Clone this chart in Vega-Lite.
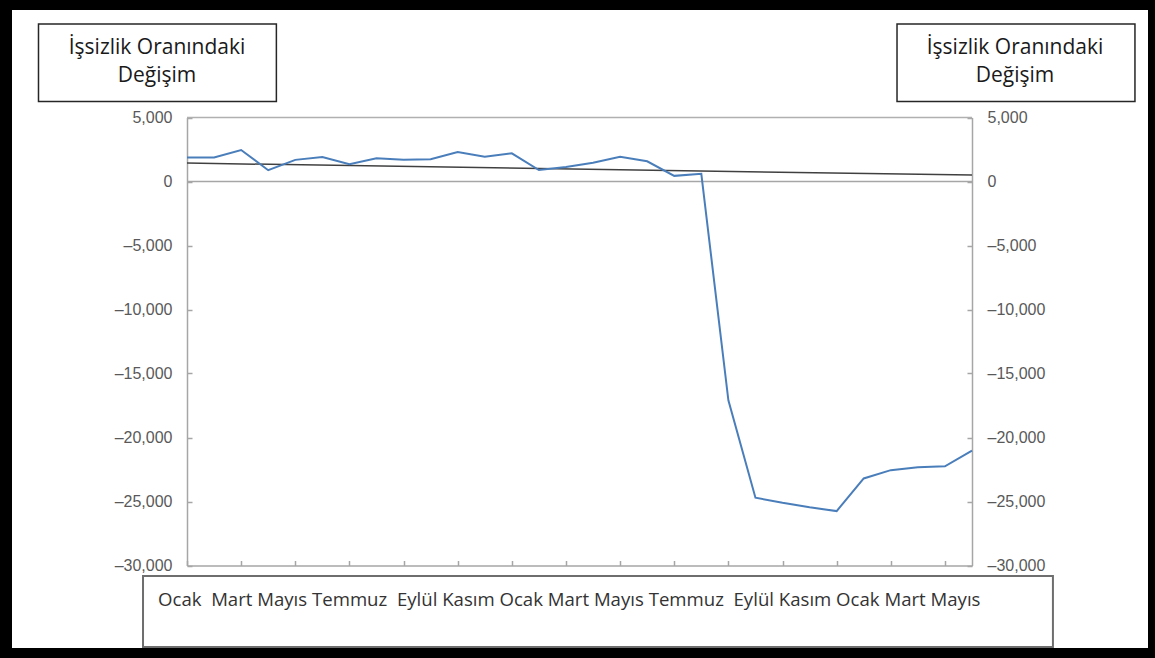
{
  "$schema": "https://vega.github.io/schema/vega-lite/v6.json",
  "autosize": "none",
  "width": 1136,
  "height": 638,
  "padding": {"left": 12, "top": 10, "right": 7, "bottom": 10},
  "background": "black",
  "config": {
    "view": {"fill": "white", "stroke": null},
    "axis": {"grid": false, "title": null}
  },
  "data": {"values": [{}]},
  "datasets": {
    "degisim": [
      {"ay": 0, "deger": 1870},
      {"ay": 1, "deger": 1870},
      {"ay": 2, "deger": 2460},
      {"ay": 3, "deger": 880},
      {"ay": 4, "deger": 1690},
      {"ay": 5, "deger": 1920},
      {"ay": 6, "deger": 1350},
      {"ay": 7, "deger": 1820},
      {"ay": 8, "deger": 1690},
      {"ay": 9, "deger": 1740},
      {"ay": 10, "deger": 2310},
      {"ay": 11, "deger": 1940},
      {"ay": 12, "deger": 2200},
      {"ay": 13, "deger": 900},
      {"ay": 14, "deger": 1140},
      {"ay": 15, "deger": 1470},
      {"ay": 16, "deger": 1940},
      {"ay": 17, "deger": 1580},
      {"ay": 18, "deger": 440},
      {"ay": 19, "deger": 600},
      {"ay": 20, "deger": -17100},
      {"ay": 21, "deger": -24700},
      {"ay": 22, "deger": -25100},
      {"ay": 23, "deger": -25450},
      {"ay": 24, "deger": -25750},
      {"ay": 25, "deger": -23200},
      {"ay": 26, "deger": -22550},
      {"ay": 27, "deger": -22330},
      {"ay": 28, "deger": -22250},
      {"ay": 29, "deger": -21030}
    ],
    "egilim": [
      {"ay": 0, "deger": 1440},
      {"ay": 29, "deger": 500}
    ]
  },
  "resolve": {"axis": {"x": "independent", "y": "independent"}},
  "layer": [
    {
      "mark": {"type": "rect", "fill": "white", "stroke": "#6e6e6e", "strokeWidth": 2, "clip": false},
      "encoding": {
        "x": {"datum": -1.625, "type": "quantitative", "axis": null},
        "x2": {"datum": 31.99},
        "y": {"datum": -30820, "type": "quantitative", "axis": null},
        "y2": {"datum": -36367}
      }
    },
    {
      "mark": {"type": "text", "align": "left", "baseline": "middle", "font": "Open Sans", "fontSize": 18.6, "color": "#333333", "clip": false},
      "encoding": {
        "x": {"datum": -1.071, "type": "quantitative", "axis": null},
        "y": {"datum": -32734, "type": "quantitative", "axis": null},
        "text": {"value": "Ocak \u00a0Mart Mayıs Temmuz \u00a0Eylül Kasım Ocak Mart Mayıs Temmuz \u00a0Eylül Kasım Ocak Mart Mayıs"}
      }
    },
    {
      "mark": {"type": "rect", "fill": "white", "stroke": "#262626", "strokeWidth": 1.5, "clip": false},
      "encoding": {
        "x": {"datum": -5.486, "type": "quantitative", "axis": null},
        "x2": {"datum": 3.302},
        "y": {"datum": 12305, "type": "quantitative", "axis": null},
        "y2": {"datum": 6250}
      }
    },
    {
      "mark": {"type": "rect", "fill": "white", "stroke": "#262626", "strokeWidth": 1.5, "clip": false},
      "encoding": {
        "x": {"datum": 26.23, "type": "quantitative", "axis": null},
        "x2": {"datum": 35.02},
        "y": {"datum": 12305, "type": "quantitative", "axis": null},
        "y2": {"datum": 6250}
      }
    },
    {
      "mark": {"type": "text", "align": "center", "baseline": "middle", "font": "Open Sans", "fontSize": 21, "lineHeight": 28, "color": "#1a1a1a", "clip": false},
      "encoding": {
        "x": {"datum": -1.108, "type": "quantitative", "axis": null},
        "y": {"datum": 10430, "type": "quantitative", "axis": null},
        "text": {"value": ["İşsizlik Oranındaki", "Değişim"]}
      }
    },
    {
      "mark": {"type": "text", "align": "center", "baseline": "middle", "font": "Open Sans", "fontSize": 21, "lineHeight": 28, "color": "#1a1a1a", "clip": false},
      "encoding": {
        "x": {"datum": 30.59, "type": "quantitative", "axis": null},
        "y": {"datum": 10430, "type": "quantitative", "axis": null},
        "text": {"value": ["İşsizlik Oranındaki", "Değişim"]}
      }
    },
    {
      "mark": {"type": "rule", "color": "#b0b0b0", "strokeWidth": 1.5},
      "encoding": {
        "x": {"datum": 0, "type": "quantitative", "axis": null},
        "x2": {"datum": 29},
        "y": {
          "datum": 5000,
          "type": "quantitative",
          "axis": {
            "orient": "right",
            "offset": -181,
            "values": [5000, 0, -5000, -10000, -15000, -20000, -25000, -30000],
            "labels": false,
            "domain": false,
            "tickSize": 5,
            "tickColor": "#a6a6a6",
            "tickWidth": 1.5
          }
        }
      }
    },
    {
      "mark": {"type": "rule", "color": "#a6a6a6", "strokeWidth": 1.5},
      "encoding": {
        "x": {"datum": 0, "type": "quantitative", "axis": null},
        "x2": {"datum": 29},
        "y": {
          "datum": 0,
          "type": "quantitative",
          "axis": {
            "orient": "right",
            "offset": -176,
            "values": [5000, 0, -5000, -10000, -15000, -20000, -25000, -30000],
            "labelExpr": "replace(format(datum.value, ','), '−', '–')",
            "labelFont": "Liberation Sans",
            "labelFontSize": 16,
            "labelColor": "#595959",
            "labelPadding": 15,
            "ticks": false,
            "domainColor": "#a6a6a6",
            "domainWidth": 1.5
          }
        }
      }
    },
    {
      "data": {"name": "egilim"},
      "mark": {"type": "line", "color": "#404040", "strokeWidth": 1.5},
      "encoding": {
        "x": {
          "field": "ay",
          "type": "quantitative",
          "axis": {
            "orient": "bottom",
            "offset": -87.5,
            "values": [0, 2, 4, 6, 8, 10, 12, 14, 16, 18, 20, 22, 24, 26, 28],
            "labels": false,
            "domain": false,
            "tickSize": 5,
            "tickColor": "#a6a6a6",
            "tickWidth": 1.5
          }
        },
        "y": {
          "field": "deger",
          "type": "quantitative",
          "axis": {
            "orient": "left",
            "offset": -180,
            "values": [5000, 0, -5000, -10000, -15000, -20000, -25000, -30000],
            "labels": false,
            "domain": false,
            "tickSize": 5,
            "tickColor": "#a6a6a6",
            "tickWidth": 1.5
          }
        }
      }
    },
    {
      "data": {"name": "degisim"},
      "mark": {"type": "line", "color": "#4a7ebb", "strokeWidth": 2},
      "encoding": {
        "x": {
          "field": "ay",
          "type": "quantitative",
          "scale": {"domain": [0, 29], "range": [175, 960], "nice": false, "zero": false},
          "axis": {
            "orient": "bottom",
            "offset": -82.5,
            "labels": false,
            "ticks": false,
            "domainColor": "#a6a6a6",
            "domainWidth": 1.5
          }
        },
        "y": {
          "field": "deger",
          "type": "quantitative",
          "scale": {"domain": [-30000, 5000], "range": [555.5, 107.5], "nice": false, "zero": false},
          "axis": {
            "orient": "left",
            "offset": -175,
            "values": [5000, 0, -5000, -10000, -15000, -20000, -25000, -30000],
            "labelExpr": "replace(format(datum.value, ','), '−', '–')",
            "labelFont": "Liberation Sans",
            "labelFontSize": 16,
            "labelColor": "#595959",
            "labelPadding": 15,
            "ticks": false,
            "domainColor": "#a6a6a6",
            "domainWidth": 1.5
          }
        }
      }
    }
  ]
}
